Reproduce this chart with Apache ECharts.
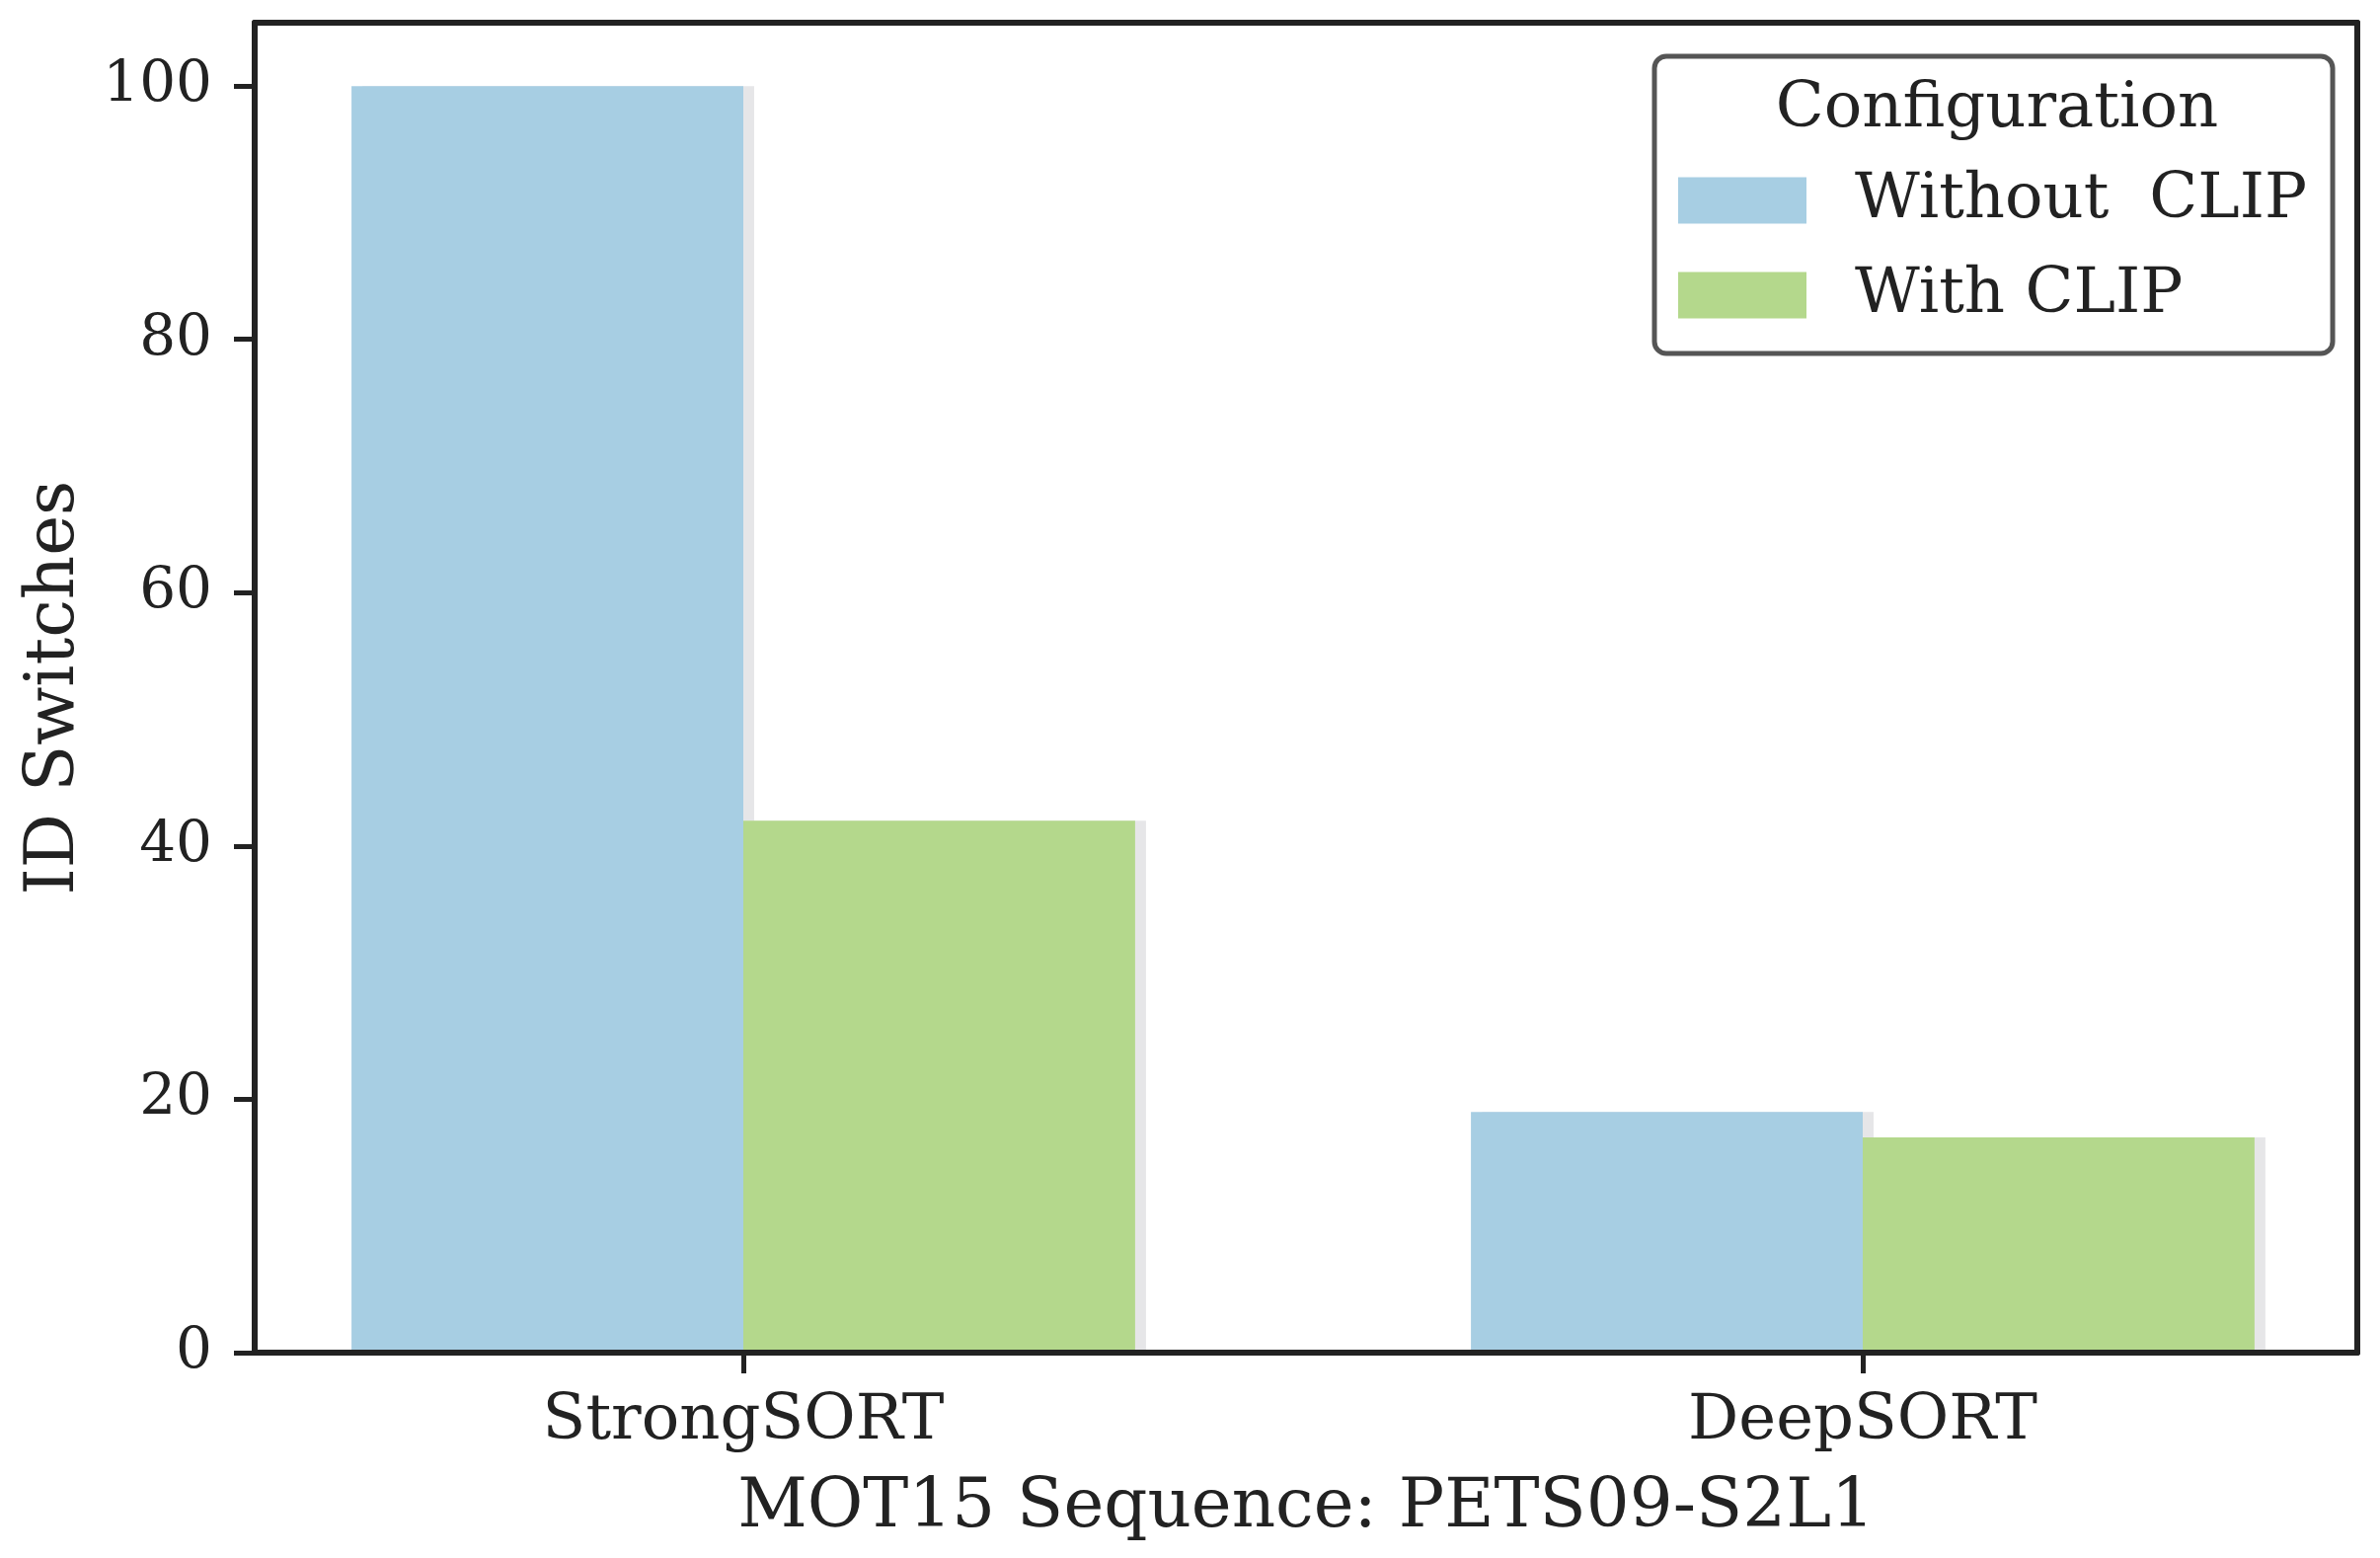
<!DOCTYPE html>
<html>
<head>
<meta charset="utf-8">
<script src="https://cdn.jsdelivr.net/npm/echarts@6/dist/echarts.min.js"></script>
<style>html,body{margin:0;padding:0;background:#fff}#c{width:2411px;height:1578px}</style>
</head>
<body>
<div id="c"></div>
<script>
const categories = ['StrongSORT', 'DeepSORT'];
const withoutClip = [100, 19];
const withClip = [42, 17];
const seriesNames = ['Without  CLIP', 'With CLIP'];
const yTicks = [0, 20, 40, 60, 80, 100];

const FONT = 'DejaVu Serif';
const INK = '#222222';
const chart = echarts.init(document.getElementById('c'), null, {renderer: 'canvas'});

const frame = {left: 258, top: 23, right: 23, bottom: 208};

chart.setOption({
  backgroundColor: '#ffffff',
  animation: false,
  textStyle: {fontFamily: FONT, color: INK},
  title: {
    text: 'Configuration',
    left: 2018, top: 74, textAlign: 'center',
    textStyle: {fontFamily: FONT, fontSize: 64, fontWeight: 'normal', color: INK},
    z: 20
  },
  legend: {
    orient: 'vertical',
    left: 1676, top: 57,
    padding: [114, 26, 27, 24],
    itemWidth: 130, itemHeight: 47, itemGap: 32,
    icon: 'rect',
    backgroundColor: '#ffffff',
    borderColor: '#555555', borderWidth: 5, borderRadius: 12,
    textStyle: {fontFamily: FONT, fontSize: 64, color: INK, lineHeight: 47, padding: [0, 0, 0, 44]},
    data: seriesNames,
    z: 15
  },
  grid: [
    Object.assign({}, frame),
    {left: 753, right: 524, top: 23, bottom: 208}
  ],
  xAxis: [
    {gridIndex: 0, type: 'value', min: 0, max: 1, position: 'bottom', z: 10,
      axisLine: {show: true, onZero: false, lineStyle: {color: INK, width: 6}},
      axisTick: {show: false}, axisLabel: {show: false}, splitLine: {show: false},
      name: 'MOT15 Sequence: PETS09-S2L1', nameLocation: 'middle', nameGap: 124,
      nameTextStyle: {fontFamily: FONT, fontSize: 69, color: INK}},
    {gridIndex: 0, type: 'value', min: 0, max: 1, position: 'top', z: 10,
      axisLine: {show: true, onZero: false, lineStyle: {color: INK, width: 6}},
      axisTick: {show: false}, axisLabel: {show: false}, splitLine: {show: false}},
    {gridIndex: 1, type: 'category', data: categories, boundaryGap: false, z: 10,
      axisLine: {show: false, onZero: false},
      axisTick: {show: true, length: 21, lineStyle: {color: INK, width: 5}},
      axisLabel: {fontFamily: FONT, fontSize: 64, color: INK, margin: 38},
      splitLine: {show: false}}
  ],
  yAxis: [
    {gridIndex: 0, type: 'value', min: 0, max: 105, position: 'left', z: 10,
      axisLine: {show: true, onZero: false, lineStyle: {color: INK, width: 6}},
      axisLabel: {fontFamily: FONT, fontSize: 58, color: INK, margin: 43,
        customValues: yTicks},
      axisTick: {show: true, length: 21, lineStyle: {color: INK, width: 5}, customValues: yTicks},
      splitLine: {show: false},
      name: 'ID Switches', nameLocation: 'middle', nameGap: 167,
      nameTextStyle: {fontFamily: FONT, fontSize: 69, color: INK}},
    {gridIndex: 0, type: 'value', min: 0, max: 105, position: 'right', z: 10,
      axisLine: {show: true, onZero: false, lineStyle: {color: INK, width: 6}},
      axisTick: {show: false}, axisLabel: {show: false}, splitLine: {show: false}},
    {gridIndex: 1, type: 'value', min: 0, max: 105, show: false}
  ],
  series: [
    {name: seriesNames[0], type: 'bar', xAxisIndex: 2, yAxisIndex: 2, data: withoutClip,
      barWidth: '35%', barGap: '0%', z: 2, clip: false,
      itemStyle: {color: '#a7cee3', shadowColor: 'rgba(10,10,30,0.1)', shadowBlur: 0, shadowOffsetX: 11, shadowOffsetY: 0}},
    {name: seriesNames[1], type: 'bar', xAxisIndex: 2, yAxisIndex: 2, data: withClip,
      barWidth: '35%', barGap: '0%', z: 2, clip: false,
      itemStyle: {color: '#b4d88c', shadowColor: 'rgba(10,10,30,0.1)', shadowBlur: 0, shadowOffsetX: 11, shadowOffsetY: 0}}
  ]
});
</script>
</body>
</html>
